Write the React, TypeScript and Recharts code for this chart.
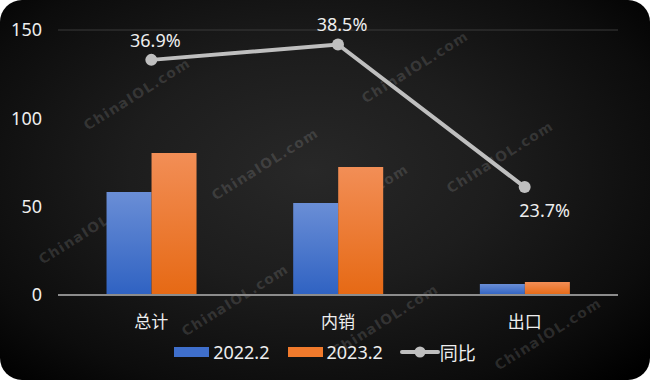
import React from 'react';
import { ComposedChart, Bar, Line, XAxis, YAxis, CartesianGrid, Legend, LabelList } from 'recharts';

const categories = ['总计', '内销', '出口'];
const values2022 = [58.3, 52.1, 6.2];
const values2023 = [80.4, 72.5, 7.4];
const yoy = [36.9, 38.5, 23.7];
const yTicks = [0, 50, 100, 150];

const data = categories.map((name, i) => ({
    name,
    v2022: values2022[i],
    v2023: values2023[i],
    yoy: yoy[i],
}));

const FONT = "'Noto Sans', 'Noto Sans CJK SC', sans-serif";

const watermarks = [
    [137, 94], [265, 164], [355, 200], [415, 67], [500, 157],
    [92, 228], [235, 300], [385, 320], [548, 334],
];

const YoyLabel = (props: any) => {
    const { x, y, index, value } = props;
    const below = index === 2;
    return (
        <text
            x={x + (below ? 20 : 4)}
            y={y + (below ? 23 : -20)}
            fill="#eeeeee"
            fontSize={18}
            fontFamily={FONT}
            textAnchor="middle"
            dominantBaseline="central"
        >
            {value}%
        </text>
    );
};

const LegendContent = () => (
    <div style={{ display: 'flex', justifyContent: 'center', alignItems: 'center', height: 30, fontFamily: FONT, fontSize: 18, color: '#eeeeee' }}>
        <span style={{ width: 35, height: 10, background: '#3f6fcc', marginRight: 4 }} />
        <span style={{ marginRight: 18 }}>2022.2</span>
        <span style={{ width: 35, height: 10, background: '#f07a2c', marginRight: 4 }} />
        <span style={{ marginRight: 17 }}>2023.2</span>
        <svg width={40} height={14}>
            <line x1={2} y1={7} x2={38} y2={7} stroke="#bfbfbf" strokeWidth={4} strokeLinecap="round" />
            <circle cx={20} cy={7} r={5.5} fill="#bfbfbf" />
        </svg>
        <span>同比</span>
    </div>
);

export default function App() {
    return (
        <div style={{
            position: 'absolute', left: 0, top: 0, width: 650, height: 380, borderRadius: 22, overflow: 'hidden',
            background: 'radial-gradient(ellipse 70% 75% at 48% 45%, #282828 0%, #1d1d1d 40%, #0c0c0c 80%, #000 100%)',
        }}>
            <svg width={650} height={380} style={{ position: 'absolute', left: 0, top: 0 }}>
                {watermarks.map(([cx, cy], i) => (
                    <text
                        key={i}
                        x={cx}
                        y={cy}
                        transform={`rotate(-32 ${cx} ${cy})`}
                        textAnchor="middle"
                        dominantBaseline="central"
                        fontFamily="Verdana, 'DejaVu Sans', sans-serif"
                        fontWeight="bold"
                        fontSize={14}
                        letterSpacing={1.2}
                        fill="rgba(255,255,255,0.13)"
                    >
                        ChinaIOL.com
                    </text>
                ))}
            </svg>
            <div style={{ position: 'absolute', left: 0, top: 0 }}>
                <ComposedChart width={650} height={380} data={data} margin={{ top: 30, right: 32, left: 0, bottom: 13 }} barCategoryGap="26%" barGap={0}>
                    <defs>
                        <linearGradient id="gBlue" x1="0" y1="0" x2="0" y2="1">
                            <stop offset="0%" stopColor="#6a8ed6" />
                            <stop offset="100%" stopColor="#2f62c2" />
                        </linearGradient>
                        <linearGradient id="gOrange" x1="0" y1="0" x2="0" y2="1">
                            <stop offset="0%" stopColor="#f28e56" />
                            <stop offset="100%" stopColor="#e66914" />
                        </linearGradient>
                    </defs>
                    <CartesianGrid vertical={false} stroke="#3a3a3a" strokeWidth={1} />
                    <XAxis
                        dataKey="name"
                        height={42}
                        axisLine={{ stroke: '#8c8c8c', strokeWidth: 2 }}
                        tickLine={false}
                        tickMargin={15}
                        tick={{ fill: '#eeeeee', fontSize: 17, fontFamily: FONT }}
                    />
                    <YAxis
                        yAxisId="left"
                        width={58}
                        domain={[0, 150]}
                        ticks={yTicks}
                        axisLine={false}
                        tickLine={false}
                        tickMargin={10}
                        tick={{ fill: '#eeeeee', fontSize: 18, fontFamily: FONT }}
                    />
                    <YAxis yAxisId="right" orientation="right" hide domain={[12.5, 40]} />
                    <Legend verticalAlign="bottom" content={<LegendContent />} wrapperStyle={{ left: 0, width: 650 }} />
                    <Bar yAxisId="left" dataKey="v2022" name="2022.2" fill="url(#gBlue)" isAnimationActive={false} />
                    <Bar yAxisId="left" dataKey="v2023" name="2023.2" fill="url(#gOrange)" isAnimationActive={false} />
                    <Line
                        yAxisId="right"
                        dataKey="yoy"
                        name="同比"
                        stroke="#bfbfbf"
                        strokeWidth={4}
                        dot={{ r: 6, fill: '#bfbfbf', stroke: 'none' }}
                        isAnimationActive={false}
                    >
                        <LabelList dataKey="yoy" content={<YoyLabel />} />
                    </Line>
                </ComposedChart>
            </div>
        </div>
    );
}
